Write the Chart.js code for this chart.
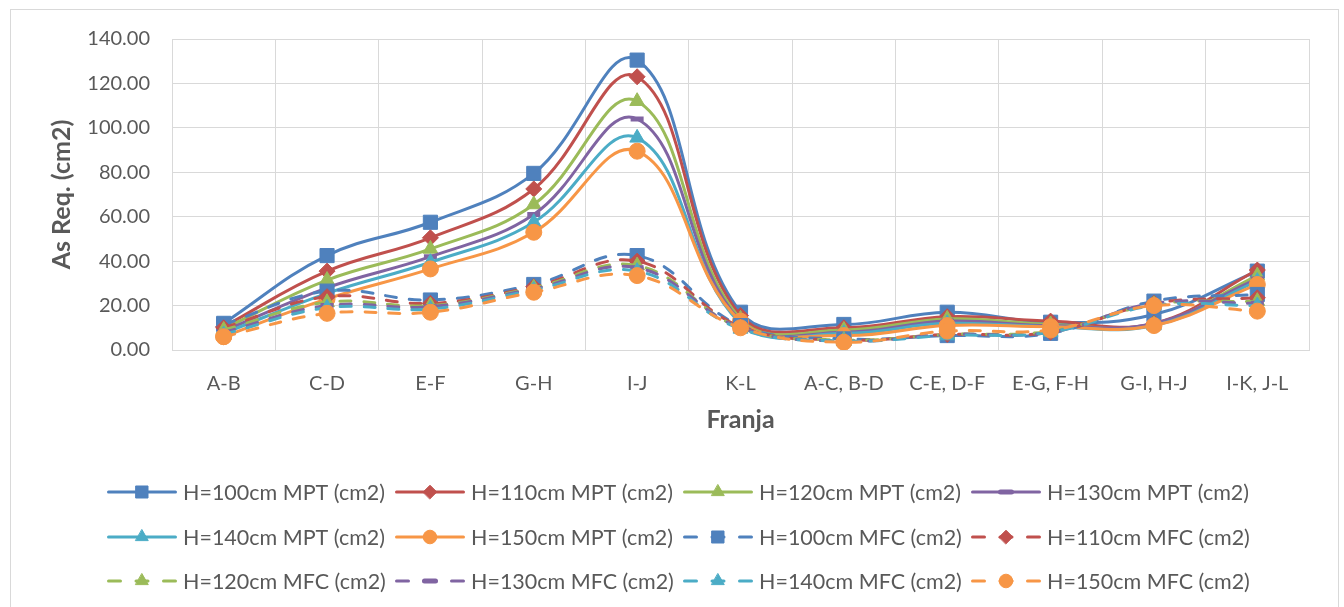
<!DOCTYPE html>
<html>
<head>
<meta charset="utf-8">
<script src="https://cdn.jsdelivr.net/npm/chart.js@4.4.0/dist/chart.umd.min.js"></script>
<style>
  html, body { margin: 0; padding: 0; background: #ffffff; }
  #wrap { width: 1344px; height: 607px; position: relative; }
</style>
</head>
<body>
<div id="wrap"><canvas id="c" width="1344" height="607"></canvas></div>
<script>
// Strip labels along the x axis
const categories = ['A-B', 'C-D', 'E-F', 'G-H', 'I-J', 'K-L', 'A-C, B-D', 'C-E, D-F', 'E-G, F-H', 'G-I, H-J', 'I-K, J-L'];

// Required steel area per strip (cm2), MPT method
const mpt100 = [12, 42.5, 57.5, 79.5, 130.5, 17, 11.5, 17, 12.5, 16, 35.5];
const mpt110 = [10.5, 35.5, 50.5, 72.5, 123, 15.5, 10, 15, 13, 12, 36];
const mpt120 = [9.5, 31.5, 45.5, 65.5, 112, 14, 9, 14, 11.5, 11.5, 33.5];
const mpt130 = [8.5, 28, 42, 61, 104, 13, 8, 13, 11, 12, 32];
const mpt140 = [7.5, 25.5, 39.5, 57.5, 95.5, 12, 7.5, 12, 10.5, 11, 31];
const mpt150 = [6, 23, 36.5, 53, 89.5, 13, 6.5, 11, 10.5, 11, 29.5];

// Required steel area per strip (cm2), MFC method
const mfc100 = [11.5, 26.5, 22.5, 29.5, 42.5, 11, 5, 6.5, 7.5, 22, 25];
const mfc110 = [10, 24, 21, 28.5, 40, 10.5, 4.5, 7, 8, 21, 23.5];
const mfc120 = [9, 21.5, 20, 28, 38, 10, 4.5, 7, 8.5, 20.5, 22];
const mfc130 = [8, 20, 19.5, 27.5, 37, 10, 4, 7, 8, 21, 21];
const mfc140 = [7, 19, 18.5, 27, 35.5, 9.5, 4, 6.5, 8, 20, 20];
const mfc150 = [6, 16.5, 17, 26, 33.5, 10, 3.5, 8.5, 9, 20, 17.5];

// Y axis range
const yMin = 0;
const yMax = 140;
const yStep = 20;

const seriesNames = [
  'H=100cm MPT (cm2)', 'H=110cm MPT (cm2)', 'H=120cm MPT (cm2)', 'H=130cm MPT (cm2)',
  'H=140cm MPT (cm2)', 'H=150cm MPT (cm2)', 'H=100cm MFC (cm2)', 'H=110cm MFC (cm2)',
  'H=120cm MFC (cm2)', 'H=130cm MFC (cm2)', 'H=140cm MFC (cm2)', 'H=150cm MFC (cm2)'
];
const seriesValues = [mpt100, mpt110, mpt120, mpt130, mpt140, mpt150,
                      mfc100, mfc110, mfc120, mfc130, mfc140, mfc150];

const palette = ['#4F81BD', '#C0504D', '#9BBB59', '#8064A2', '#4BACC6', '#F79646'];
const markerShapes = ['rect', 'rectRot', 'triangle', 'line', 'triangle', 'circle'];
const markerRadius = [10, 8, 8.5, 6.5, 8.5, 8];
const markerBorder = [1, 1, 1, 5, 1, 1];
const dashPattern = [11, 13];

const FONT = 'Lato, "Open Sans", "DejaVu Sans", sans-serif';
const TEXT = '#595959';
const GRID = '#D9D9D9';

const datasets = seriesValues.map((vals, i) => {
  const k = i % 6;
  const dashed = i >= 6;
  return {
    label: seriesNames[i],
    data: vals,
    borderColor: palette[k],
    backgroundColor: palette[k],
    pointBackgroundColor: palette[k],
    pointBorderColor: palette[k],
    pointStyle: markerShapes[k],
    pointRadius: markerRadius[k],
    pointHoverRadius: markerRadius[k],
    pointBorderWidth: markerBorder[k],
    borderWidth: 3,
    borderDash: dashed ? dashPattern : [],
    borderCapStyle: 'round',
    borderJoinStyle: 'round',
    tension: 0.4,
    fill: false,
    order: seriesValues.length - i
  };
});

// Outer frame of the chart
const framePlugin = {
  id: 'frame',
  beforeDraw(chart) {
    const ctx = chart.ctx;
    ctx.save();
    ctx.fillStyle = '#ffffff';
    ctx.fillRect(0, 0, chart.width, chart.height);
    ctx.strokeStyle = GRID;
    ctx.lineWidth = 1;
    ctx.strokeRect(10.5, 9.5, 1328, chart.height + 20);
    ctx.restore();
  }
};

// Legend: 4 columns x 3 rows, line sample with marker followed by the label
const legendPlugin = {
  id: 'lineLegend',
  afterDraw(chart) {
    const ctx = chart.ctx;
    const colW = 288;
    const startX = 107;
    const rowY = [492, 537, 581];
    const sampleLen = 70;
    ctx.save();
    chart.data.datasets.forEach((ds, i) => {
      const col = i % 4;
      const row = Math.floor(i / 4);
      const x0 = startX + col * colW;
      const y = rowY[row];
      ctx.strokeStyle = ds.borderColor;
      ctx.lineWidth = ds.borderWidth;
      ctx.lineCap = 'round';
      if (ds.borderDash.length) {
        ctx.setLineDash([12, 15.5]);
        ctx.lineDashOffset = 0;
      } else {
        ctx.setLineDash([]);
      }
      ctx.beginPath();
      ctx.moveTo(x0 + 1.5, y);
      ctx.lineTo(x0 + sampleLen - 1.5, y);
      ctx.stroke();
      ctx.setLineDash([]);
      ctx.fillStyle = ds.pointBackgroundColor;
      ctx.strokeStyle = ds.pointBorderColor;
      ctx.lineWidth = ds.pointBorderWidth;
      Chart.helpers.drawPoint(ctx, {
        pointStyle: ds.pointStyle,
        radius: ds.pointRadius * 0.85,
        rotation: 0,
        borderWidth: ds.pointBorderWidth
      }, x0 + sampleLen / 2, y);
      ctx.fillStyle = TEXT;
      ctx.font = '21.5px ' + FONT;
      ctx.textAlign = 'left';
      ctx.textBaseline = 'middle';
      ctx.fillText(ds.label, x0 + sampleLen + 6, y + 1);
    });
    ctx.restore();
  }
};

new Chart(document.getElementById('c'), {
  type: 'line',
  data: { labels: categories, datasets: datasets },
  plugins: [framePlugin, legendPlugin],
  options: {
    responsive: false,
    animation: false,
    devicePixelRatio: 1,
    layout: { padding: { left: 10, right: 35, top: 39, bottom: 170 } },
    plugins: {
      legend: { display: false },
      tooltip: { enabled: false }
    },
    scales: {
      x: {
        type: 'category',
        offset: true,
        grid: { offset: true, color: GRID, lineWidth: 1, drawTicks: false },
        border: { color: GRID, width: 1 },
        ticks: { color: TEXT, font: { family: FONT, size: 20 }, padding: 22, maxRotation: 0, autoSkip: false },
        title: { display: true, text: 'Franja', color: TEXT, font: { family: FONT, size: 25, weight: 'bold' }, padding: { top: 0, bottom: 2 } },
        afterFit(scale) { scale.height = 87; }
      },
      y: {
        min: yMin,
        max: yMax,
        grid: { color: GRID, lineWidth: 1, drawTicks: false },
        border: { color: GRID, width: 1 },
        ticks: {
          stepSize: yStep,
          color: TEXT,
          font: { family: FONT, size: 20 },
          padding: 22,
          callback: (v) => Number(v).toFixed(2)
        },
        title: { display: true, text: 'As Req. (cm2)', color: TEXT, font: { family: FONT, size: 25, weight: 'bold' }, padding: { top: 37, bottom: 0 } },
        afterFit(scale) { scale.width = 162; }
      }
    }
  }
});
</script>
</body>
</html>
